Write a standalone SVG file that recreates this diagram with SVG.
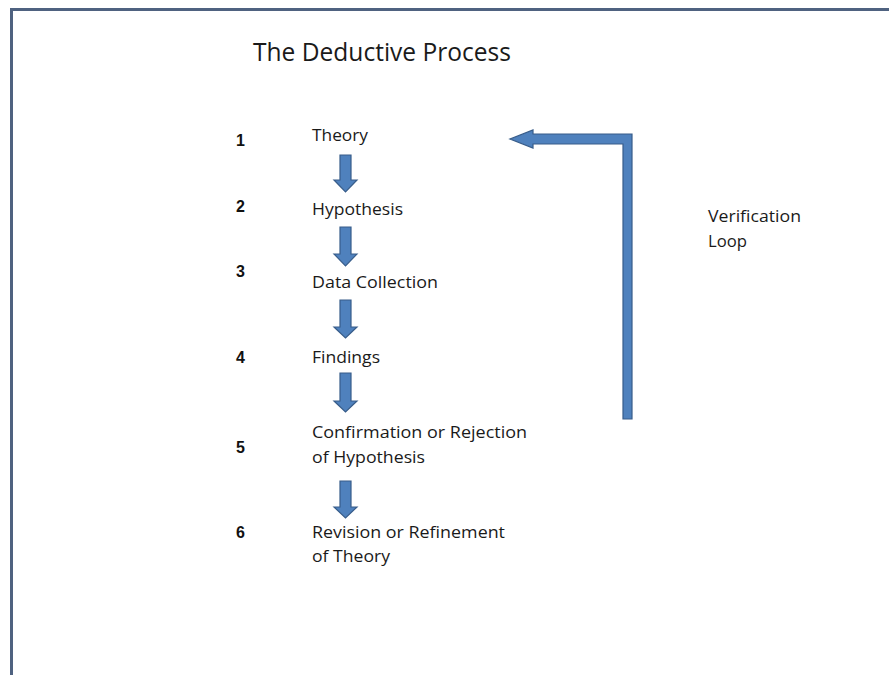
<svg xmlns="http://www.w3.org/2000/svg" width="889" height="675" viewBox="0 0 889 675">
<defs>
<style>
.lbl{font-family:"Open Sans","Liberation Sans",sans-serif;font-size:17px;fill:#1a1a1a}
.num{font-family:"Liberation Sans",Arial,sans-serif;font-size:16px;font-weight:bold;fill:#111}
.title{font-family:"Open Sans","Liberation Sans",sans-serif;font-size:25px;fill:#1a1a1a}
.arr{fill:#4f81bd;stroke:#385d8a;stroke-width:1.2;stroke-linejoin:miter}
</style>
</defs>
<rect x="0" y="0" width="889" height="675" fill="#ffffff"/>
<path d="M11.5,680 V9.5 H895" fill="none" stroke="#4f6280" stroke-width="3"/>
<text class="title" x="253" y="61" textLength="258" lengthAdjust="spacingAndGlyphs">The Deductive Process</text>

<g id="n1"><text class="num" x="236" y="146">1</text><text class="lbl" x="312" y="141" textLength="56" lengthAdjust="spacingAndGlyphs">Theory</text></g>
<g id="n2"><text class="num" x="236" y="212">2</text><text class="lbl" x="312" y="215" textLength="91" lengthAdjust="spacingAndGlyphs">Hypothesis</text></g>
<g id="n3"><text class="num" x="236" y="277">3</text><text class="lbl" x="312" y="288" textLength="126" lengthAdjust="spacingAndGlyphs">Data Collection</text></g>
<g id="n4"><text class="num" x="236" y="363">4</text><text class="lbl" x="312" y="363" textLength="68" lengthAdjust="spacingAndGlyphs">Findings</text></g>
<g id="n5"><text class="num" x="236" y="453">5</text><text class="lbl" x="312" y="438" textLength="215" lengthAdjust="spacingAndGlyphs">Confirmation or Rejection</text><text class="lbl" x="312" y="463" textLength="113" lengthAdjust="spacingAndGlyphs">of Hypothesis</text></g>
<g id="n6"><text class="num" x="236" y="538">6</text><text class="lbl" x="312" y="538" textLength="193" lengthAdjust="spacingAndGlyphs">Revision or Refinement</text><text class="lbl" x="312" y="562" textLength="78" lengthAdjust="spacingAndGlyphs">of Theory</text></g>
<g id="loop-label"><text class="lbl" x="708" y="222" textLength="93" lengthAdjust="spacingAndGlyphs">Verification</text><text class="lbl" x="708" y="247" textLength="39" lengthAdjust="spacingAndGlyphs">Loop</text></g>

<g id="connectors">
<path class="arr" d="M340,155 H351 V180 H357 L345.5,192 L334,180 H340 Z"/>
<path class="arr" d="M340,227 H351 V254 H357 L345.5,266 L334,254 H340 Z"/>
<path class="arr" d="M340,300 H351 V327 H357 L345.5,338 L334,327 H340 Z"/>
<path class="arr" d="M340,373 H351 V401 H357 L345.5,412 L334,401 H340 Z"/>
<path class="arr" d="M340,481 H351 V507 H357 L345.5,518 L334,507 H340 Z"/>
<path class="arr" d="M632,134 V419 H623 V144 H533 V148 L510,139 L533,130 V134 Z"/>
</g>
</svg>
